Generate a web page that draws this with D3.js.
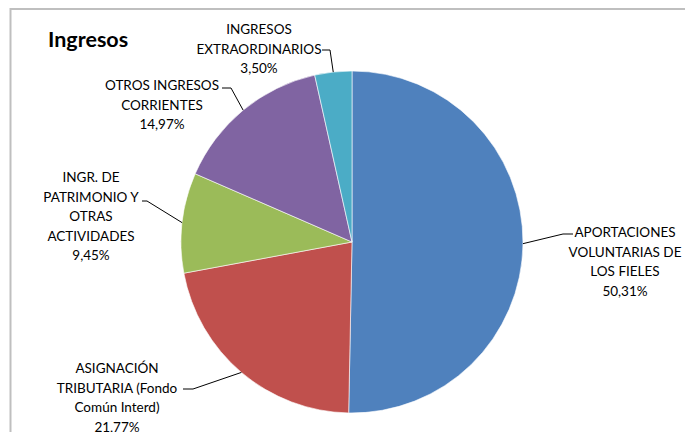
<!DOCTYPE html>
<html>
<head>
<meta charset="utf-8">
<script src="https://cdn.jsdelivr.net/npm/d3@7"></script>
<style>
  body { margin: 0; background: #fff; }
  text { font-family: Lato, "Open Sans", sans-serif; fill: #000; }
</style>
</head>
<body>
<svg id="chart" width="685" height="432"></svg>
<script>
// Data (slices go clockwise from 12 o'clock)
var categories = [
  "APORTACIONES VOLUNTARIAS DE LOS FIELES",
  "ASIGNACIÓN TRIBUTARIA (Fondo Común Interd)",
  "INGR. DE PATRIMONIO Y OTRAS ACTIVIDADES",
  "OTROS INGRESOS CORRIENTES",
  "INGRESOS EXTRAORDINARIOS"
];
var labelLines = [
  ["APORTACIONES", "VOLUNTARIAS DE", "LOS FIELES"],
  ["ASIGNACIÓN", "TRIBUTARIA (Fondo", "Común Interd)"],
  ["INGR. DE", "PATRIMONIO Y", "OTRAS", "ACTIVIDADES"],
  ["OTROS INGRESOS", "CORRIENTES"],
  ["INGRESOS", "EXTRAORDINARIOS"]
];
var values = [50.31, 21.77, 9.45, 14.97, 3.50];
var colors = ["#4F81BD", "#C0504D", "#9BBB59", "#8064A2", "#4BACC6"];

// label placement: text block centre x, first baseline y, and where the leader leaves the text
var labelPos = [
  { x: 625, y: 237, lx: 573, ly: 234, ex: 563 },
  { x: 117, y: 373, lx: 183, ly: 389, ex: 193 },
  { x: 91,  y: 182, lx: 142, ly: 201, ex: 147 },
  { x: 162, y: 90,  lx: 222, ly: 88,  ex: 231 },
  { x: 259, y: 34,  lx: 322, ly: 50,  ex: 330 }
];

var svg = d3.select("#chart");
var cx = 352, cy = 242, radius = 171;
var lineH = 19.5;

// frame
svg.append("path")
  .attr("d", "M10.5,440V9H690")
  .attr("fill", "none")
  .attr("stroke", "#BFBFBF")
  .attr("stroke-width", 2);

// title
svg.append("text")
  .attr("x", 48)
  .attr("y", 47)
  .style("font-size", "21.5px")
  .style("font-weight", "bold")
  .text("Ingresos");

var pie = d3.pie().sort(null).value(d => d);
var arcs = pie(values);
var arc = d3.arc().innerRadius(0).outerRadius(radius);

var g = svg.append("g").attr("transform", `translate(${cx},${cy})`);

g.selectAll("path.slice")
  .data(arcs)
  .enter().append("path")
  .attr("class", "slice")
  .attr("d", arc)
  .attr("fill", (d, i) => colors[i])
  .attr("stroke", "#fff")
  .attr("stroke-width", 0.6);

var fmt = v => v.toFixed(2).replace(".", ",") + "%";

arcs.forEach(function(d, i) {
  var mid = (d.startAngle + d.endAngle) / 2;
  var px = cx + radius * Math.sin(mid);
  var py = cy - radius * Math.cos(mid);
  var p = labelPos[i];

  svg.append("path")
    .attr("d", `M${p.lx},${p.ly}L${p.ex},${p.ly}L${px},${py}`)
    .attr("fill", "none")
    .attr("stroke", "#000")
    .attr("stroke-width", 1);

  var lines = labelLines[i].concat([fmt(values[i])]);
  var t = svg.append("text")
    .attr("text-anchor", "middle")
    .style("font-size", "13.5px");
  lines.forEach(function(s, k) {
    t.append("tspan")
      .attr("x", p.x)
      .attr("y", p.y + k * lineH)
      .text(s);
  });
});
</script>
</body>
</html>
